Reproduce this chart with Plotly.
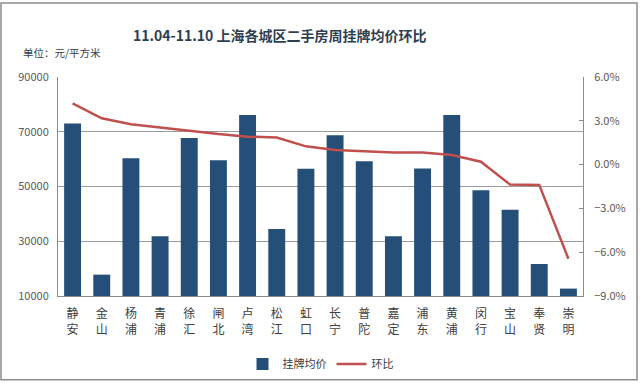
import plotly.graph_objects as go

districts = ["静安", "金山", "杨浦", "青浦", "徐汇", "闸北", "卢湾", "松江", "虹口",
             "长宁", "普陀", "嘉定", "浦东", "黄浦", "闵行", "宝山", "奉贤", "崇明"]
avg_price = [73000, 17800, 60300, 31800, 67700, 59600, 76100, 34500, 56500,
             68700, 59200, 31800, 56600, 76100, 48600, 41500, 21700, 12700]
mom_change = [0.0419, 0.0317, 0.0277, 0.0254, 0.0229, 0.0209, 0.0191, 0.0186, 0.0125,
              0.0100, 0.0092, 0.0083, 0.0083, 0.0066, 0.0020, -0.0137, -0.0139, -0.0645]
left_ticks = [10000, 30000, 50000, 70000, 90000]
right_ticks = [-0.09, -0.06, -0.03, 0.0, 0.03, 0.06]

labels = ["<br>".join(list(d)) for d in districts]

CJK = "Noto Sans CJK SC"
fig = go.Figure()
fig.add_trace(go.Bar(x=labels, y=avg_price, name="挂牌均价",
                     marker=dict(color="#254f78", line=dict(width=0))))
fig.add_trace(go.Scatter(x=labels, y=mom_change, name="环比", yaxis="y2", mode="lines",
                         line=dict(color="#c0504d", width=2.5)))

fig.update_layout(
    width=640, height=390,
    margin=dict(l=58, r=57, t=77, b=88),
    paper_bgcolor="white", plot_bgcolor="white",
    font=dict(family=CJK, size=11, color="#595959"),
    bargap=0.42,
    showlegend=True,
    legend=dict(orientation="h", x=0.5, xanchor="center", y=-0.31, yanchor="middle",
                font=dict(size=11, color="#404040"), itemwidth=30, tracegroupgap=0),
    xaxis=dict(showline=True, linecolor="#8c8c8c", linewidth=1, ticks="",
               tickfont=dict(size=12, color="#404040"), ticklabelstandoff=7,
               fixedrange=True),
    yaxis=dict(range=[10000, 90000], tickvals=left_ticks, tickformat="d", showgrid=True,
               gridcolor="#9c9c9c", gridwidth=1, showline=True, linecolor="#8c8c8c",
               zeroline=False, tickfont=dict(size=11, color="#595959"), ticks="",
               ticklabelstandoff=6),
    yaxis2=dict(range=[-0.09, 0.06], tickvals=right_ticks, tickformat=".1%",
                overlaying="y", side="right", showgrid=False, zeroline=False,
                showline=True, linecolor="#8c8c8c", ticks="inside", ticklen=4,
                tickcolor="#8c8c8c", tickfont=dict(size=11, color="#595959"),
                ticklabelstandoff=8),
    shapes=[dict(type="rect", xref="paper", yref="paper", x0=-0.1086, x1=1.1029,
                 y0=-0.382, y1=1.338,
                 line=dict(color="#8c8c8c", width=1.5), fillcolor="rgba(0,0,0,0)",
                 layer="above")],
    annotations=[
        dict(text="11.04-11.10 上海各城区二手房周挂牌均价环比", xref="paper", yref="paper",
             x=0.423, y=1.192, xanchor="center", yanchor="middle", showarrow=False,
             font=dict(family=CJK, size=14, color="#2f3f52", weight="bold")),
        dict(text="单位：元/平方米", xref="paper", yref="paper",
             x=-0.07, y=1.111, xanchor="left", yanchor="middle", showarrow=False,
             font=dict(family=CJK, size=10.5, color="#2f3f52")),
    ],
)

fig.write_html("out.html", config={"displayModeBar": False},
               post_script="document.body.style.margin='0';")
